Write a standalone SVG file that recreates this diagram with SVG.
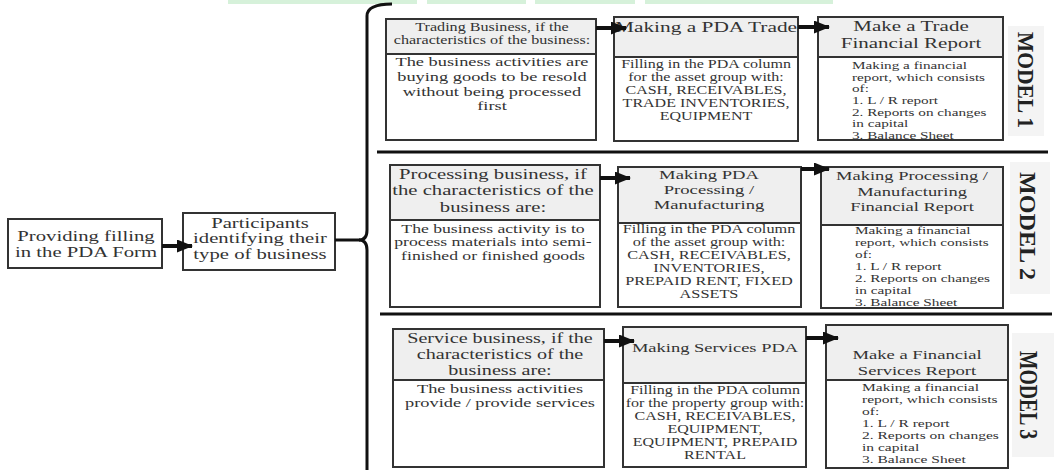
<svg xmlns="http://www.w3.org/2000/svg" width="1055" height="470" viewBox="0 0 1055 470">
<style>
.hf{fill:#efefef}
.bf{fill:#ffffff}
.box{fill:none;stroke:#333;stroke-width:2}
.dv{stroke:#333;stroke-width:2}
.t{font-family:"Liberation Serif","Times New Roman",serif;fill:#333;text-anchor:middle}
.l{text-anchor:start}
.m{font-family:"Liberation Serif","Times New Roman",serif;font-weight:bold;fill:#222;text-anchor:middle}
.sep{stroke:#111;stroke-width:3}
.arr{stroke:#111;stroke-width:4;fill:none;marker-end:url(#ah)}
.brk{stroke:#111;stroke-width:3;fill:none}
.gr{fill:#d6f1da}
.mb{fill:#f4f4f4}
</style>
<defs>
<marker id="ah" markerUnits="userSpaceOnUse" markerWidth="16" markerHeight="13" refX="15" refY="6.5" orient="auto">
<path d="M0,0 L16,6.5 L0,13 z" fill="#111"/>
</marker>
</defs>
<rect width="1055" height="470" fill="#fff"/>
<g id="topbars">
<rect class="gr" x="228" y="0" width="189" height="4"/>
<rect class="gr" x="427" y="0" width="99" height="4"/>
<rect class="gr" x="535" y="0" width="100" height="4"/>
<rect class="gr" x="645" y="0" width="188" height="4"/>
</g>
<g id="separators">
<line class="sep" x1="377" y1="152" x2="1048" y2="152"/>
<line class="sep" x1="380" y1="314" x2="1052" y2="314"/>
</g>
<g id="n-providing">
<rect class="bf" x="8" y="219" width="154" height="49"/>
<g transform="translate(86 0) scale(1.38 1)"><text class="t" font-size="15"><tspan x="0" y="241">Providing filling</tspan><tspan x="0" y="257">in the PDA Form</tspan></text></g>
<rect class="box" x="8" y="219" width="154" height="49"/>
</g>
<g id="n-participants">
<rect class="bf" x="183" y="213" width="152" height="57"/>
<g transform="translate(260 0) scale(1.38 1)"><text class="t" font-size="15"><tspan x="0" y="228">Participants</tspan><tspan x="0" y="243">identifying their</tspan><tspan x="0" y="259">type of business</tspan></text></g>
<rect class="box" x="183" y="213" width="152" height="57"/>
</g>
<g id="m1-trading">
<rect class="hf" x="386" y="19" width="210" height="35"/>
<g transform="translate(492 0) scale(1.38 1)"><text class="t" font-size="11.7" fill="#444"><tspan x="0" y="31">Trading Business, if the</tspan><tspan x="0" y="44">characteristics of the business:</tspan></text>
<text class="t" font-size="13.3"><tspan x="0" y="66">The business activities are</tspan><tspan x="0" y="81">buying goods to be resold</tspan><tspan x="0" y="96">without being processed</tspan><tspan x="0" y="110">first</tspan></text></g>
<rect class="box" x="386" y="19" width="210" height="121"/>
<line class="dv" x1="386" y1="54" x2="596" y2="54"/>
</g>
<g id="m1-pda">
<rect class="hf" x="614" y="17" width="184" height="40"/>
<g transform="translate(706 0) scale(1.38 1)"><text class="t" font-size="15.5"><tspan x="0" y="32">Making a PDA Trade</tspan></text>
<text class="t" font-size="11.6"><tspan x="0" y="68">Filling in the PDA column</tspan><tspan x="0" y="81">for the asset group with:</tspan><tspan x="0" y="94">CASH, RECEIVABLES,</tspan><tspan x="0" y="107">TRADE INVENTORIES,</tspan><tspan x="0" y="120">EQUIPMENT</tspan></text></g>
<rect class="box" x="614" y="17" width="184" height="124"/>
<line class="dv" x1="614" y1="57" x2="798" y2="57"/>
</g>
<g id="m1-report">
<rect class="hf" x="818" y="17" width="185" height="40"/>
<g transform="translate(911 0) scale(1.4 1)"><text class="t" font-size="15"><tspan x="0" y="31">Make a Trade</tspan><tspan x="0" y="48">Financial Report</tspan></text></g>
<g transform="translate(852 0) scale(1.45 1)"><text class="t l" font-size="10.5"><tspan x="0" y="69">Making a financial</tspan><tspan x="0" y="80.7">report, which consists</tspan><tspan x="0" y="92.3">of:</tspan><tspan x="0" y="104">1. L / R report</tspan><tspan x="0" y="115.7">2. Reports on changes</tspan><tspan x="0" y="127.3">in capital</tspan><tspan x="0" y="139">3. Balance Sheet</tspan></text></g>
<rect class="box" x="818" y="17" width="185" height="123"/>
<line class="dv" x1="818" y1="57" x2="1003" y2="57"/>
</g>
<g id="m1-label">
<rect class="mb" x="1008" y="26" width="36" height="110"/>
<text class="m" font-size="23" transform="translate(1018 80) rotate(90)" textLength="96" lengthAdjust="spacingAndGlyphs">MODEL 1</text>
</g>
<g id="m2-processing">
<rect class="hf" x="390" y="165" width="210" height="55"/>
<g transform="translate(493 0) scale(1.38 1)"><text class="t" font-size="15"><tspan x="0" y="179">Processing business, if</tspan><tspan x="0" y="195">the characteristics of the</tspan><tspan x="0" y="212">business are:</tspan></text>
<text class="t" font-size="12.8"><tspan x="0" y="233">The business activity is to</tspan><tspan x="0" y="246.5">process materials into semi-</tspan><tspan x="0" y="260">finished or finished goods</tspan></text></g>
<rect class="box" x="390" y="165" width="210" height="142"/>
<line class="dv" x1="390" y1="220" x2="600" y2="220"/>
</g>
<g id="m2-pda">
<rect class="hf" x="618" y="167" width="183" height="56"/>
<g transform="translate(709 0) scale(1.38 1)"><text class="t" font-size="13.5"><tspan x="0" y="179">Making PDA</tspan><tspan x="0" y="194">Processing /</tspan><tspan x="0" y="209">Manufacturing</tspan></text>
<text class="t" font-size="11.8"><tspan x="0" y="233">Filling in the PDA column</tspan><tspan x="0" y="246">of the asset group with:</tspan><tspan x="0" y="259">CASH, RECEIVABLES,</tspan><tspan x="0" y="272">INVENTORIES,</tspan><tspan x="0" y="285">PREPAID RENT, FIXED</tspan><tspan x="0" y="298">ASSETS</tspan></text></g>
<rect class="box" x="618" y="167" width="183" height="140"/>
<line class="dv" x1="618" y1="223" x2="801" y2="223"/>
</g>
<g id="m2-report">
<rect class="hf" x="821" y="167" width="182" height="58"/>
<g transform="translate(912 0) scale(1.38 1)"><text class="t" font-size="13.4"><tspan x="0" y="180">Making Processing /</tspan><tspan x="0" y="196">Manufacturing</tspan><tspan x="0" y="211">Financial Report</tspan></text></g>
<g transform="translate(855 0) scale(1.43 1)"><text class="t l" font-size="10.7"><tspan x="0" y="234">Making a financial</tspan><tspan x="0" y="246">report, which consists</tspan><tspan x="0" y="258">of:</tspan><tspan x="0" y="270">1. L / R report</tspan><tspan x="0" y="282">2. Reports on changes</tspan><tspan x="0" y="294">in capital</tspan><tspan x="0" y="306">3. Balance Sheet</tspan></text></g>
<rect class="box" x="821" y="167" width="182" height="141"/>
<line class="dv" x1="821" y1="225" x2="1003" y2="225"/>
</g>
<g id="m2-label">
<rect class="mb" x="1010" y="162" width="40" height="132"/>
<text class="m" font-size="24" transform="translate(1020 226) rotate(90)" textLength="108" lengthAdjust="spacingAndGlyphs">MODEL 2</text>
</g>
<g id="m3-service">
<rect class="hf" x="393" y="329" width="211" height="51"/>
<g transform="translate(500 0) scale(1.38 1)"><text class="t" font-size="14.6"><tspan x="0" y="343">Service business, if the</tspan><tspan x="0" y="359">characteristics of the</tspan><tspan x="0" y="375">business are:</tspan></text>
<text class="t" font-size="13.3"><tspan x="0" y="393">The business activities</tspan><tspan x="0" y="407">provide / provide services</tspan></text></g>
<rect class="box" x="393" y="329" width="211" height="138"/>
<line class="dv" x1="393" y1="380" x2="604" y2="380"/>
</g>
<g id="m3-pda">
<rect class="hf" x="623" y="327" width="183" height="56"/>
<g transform="translate(715 0) scale(1.38 1)"><text class="t" font-size="13.4"><tspan x="0" y="352">Making Services PDA</tspan></text>
<text class="t" font-size="11.6"><tspan x="0" y="394">Filling in the PDA column</tspan><tspan x="0" y="407">for the property group with:</tspan><tspan x="0" y="420">CASH, RECEIVABLES,</tspan><tspan x="0" y="433">EQUIPMENT,</tspan><tspan x="0" y="446">EQUIPMENT, PREPAID</tspan><tspan x="0" y="459">RENTAL</tspan></text></g>
<rect class="box" x="623" y="327" width="183" height="140"/>
<line class="dv" x1="623" y1="383" x2="806" y2="383"/>
</g>
<g id="m3-report">
<rect class="hf" x="826" y="325" width="182" height="55"/>
<g transform="translate(917 0) scale(1.38 1)"><text class="t" font-size="13.5"><tspan x="0" y="359">Make a Financial</tspan><tspan x="0" y="375">Services Report</tspan></text></g>
<g transform="translate(862 0) scale(1.45 1)"><text class="t l" font-size="10.7"><tspan x="0" y="391">Making a financial</tspan><tspan x="0" y="403">report, which consists</tspan><tspan x="0" y="415">of:</tspan><tspan x="0" y="427">1. L / R report</tspan><tspan x="0" y="439">2. Reports on changes</tspan><tspan x="0" y="451">in capital</tspan><tspan x="0" y="463">3. Balance Sheet</tspan></text></g>
<rect class="box" x="826" y="325" width="182" height="143"/>
<line class="dv" x1="826" y1="380" x2="1008" y2="380"/>
</g>
<g id="m3-label">
<rect class="mb" x="1012" y="333" width="42" height="124"/>
<text class="m" font-size="25" transform="translate(1020 395) rotate(90)" textLength="88" lengthAdjust="spacingAndGlyphs">MODEL 3</text>
</g>
<g id="connectors">
<path class="brk" d="M392,4 Q367,4 367,16 L367,230 Q367,240 359,240 Q367,240 367,250 L367,472"/>
<line class="brk" x1="335" y1="240" x2="360" y2="240"/>
<line class="arr" x1="162" y1="246" x2="192" y2="246"/>
<line class="arr" x1="596" y1="28" x2="626" y2="28"/>
<line class="arr" x1="798" y1="27" x2="829" y2="27"/>
<line class="arr" x1="600" y1="178" x2="630" y2="178"/>
<line class="arr" x1="801" y1="169" x2="829" y2="169"/>
<line class="arr" x1="604" y1="341" x2="634" y2="341"/>
<line class="arr" x1="806" y1="338" x2="838" y2="338"/>
</g>
</svg>
